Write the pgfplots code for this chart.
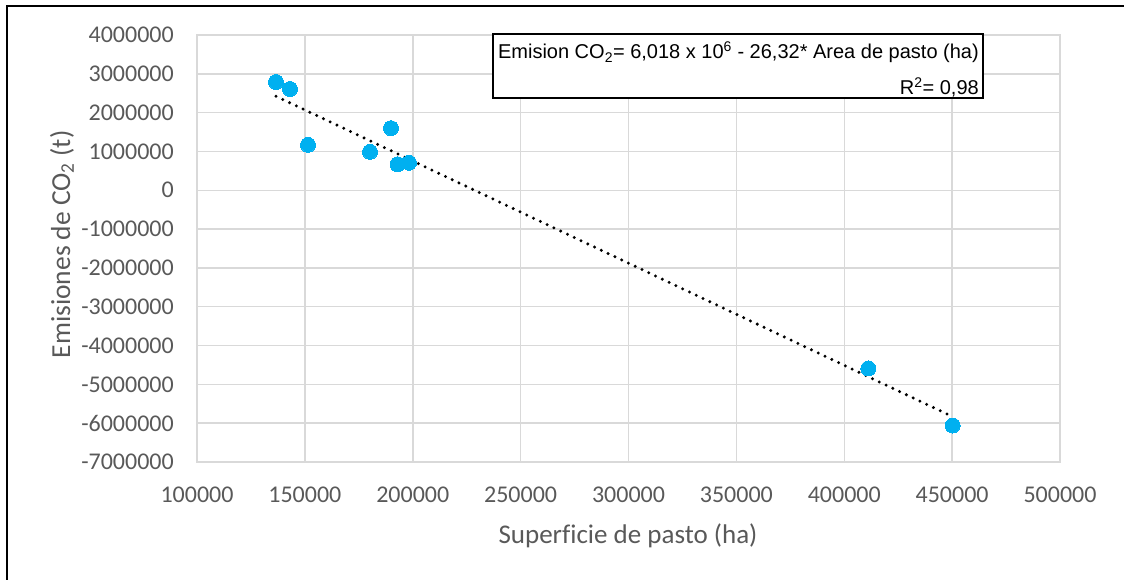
\documentclass[border=0pt]{standalone}
\usepackage{fontspec}
\setmainfont[Ligatures=NoCommon]{Carlito}
\newfontfamily\arialfont{Liberation Sans}
\usepackage{pgfplots}
\pgfplotsset{compat=1.18}
\definecolor{ptblue}{HTML}{00B0F0}
\definecolor{gridgray}{HTML}{D9D9D9}
\definecolor{txtgray}{HTML}{595959}

\begin{document}
\begin{tikzpicture}
\useasboundingbox (0pt,0pt) rectangle (1124pt,579pt);
\draw[line width=1.8pt] (7pt,-2pt) -- (7pt,573pt) -- (1126pt,573pt);
\begin{axis}[at={(197pt,117pt)}, anchor=south west,
width=863pt, height=427pt, scale only axis,
xmin=100000, xmax=500000, ymin=-7000000, ymax=4000000,
xtick distance=50000, ytick distance=1000000,
scaled ticks=false,
/pgf/number format/fixed,
/pgf/number format/set thousands separator={},
/pgf/number format/assume math mode=true,
grid=major, major grid style={gridgray, line width=1.5pt},
axis line style={gridgray, line width=1.5pt},
tick style={draw=none},
tick label style={font=\fontsize{24}{28}\selectfont, text=txtgray, inner sep=0pt},
yticklabel style={anchor=east, xshift=-23pt},
xticklabel style={anchor=north, yshift=-25pt},
clip=false]
% datos observados
\addplot[only marks, mark=*, mark size=7.5pt, mark options={fill=ptblue, draw=ptblue, line width=0pt}] coordinates {
(136600,2790000) (143100,2610000) (151450,1170000) (180190,990000)
(189900,1600000) (193000,670000) (198260,710000)
(411150,-4590000) (450270,-6060000)
};
% linea de tendencia
\addplot[black, line width=3.3pt, dash pattern=on 0pt off 7.5pt, line cap=round] coordinates {
(136600,2422700) (450270,-5833100)
};
\end{axis}
\node[anchor=base, font=\fontsize{27}{32}\selectfont, text=txtgray] at (628pt,36pt) {Superficie de pasto (ha)};
\node[rotate=90, anchor=base, font=\fontsize{27.5}{32}\selectfont, text=txtgray] at (70pt,334.5pt) {Emisiones de CO\textsubscript{2} (t)};
\draw[line width=1.8pt, fill=white] (493pt,545pt) rectangle (983pt,481pt);
\node[anchor=base east, inner sep=0pt, font=\arialfont\fontsize{20}{23}\selectfont] at (979pt,520pt) {Emision CO\textsubscript{2}= 6,018 x 10\textsuperscript{6} - 26,32* Area de pasto (ha)};
\node[anchor=base east, inner sep=0pt, font=\arialfont\fontsize{20}{23}\selectfont] at (979pt,484pt) {R\textsuperscript{2}= 0,98};
\end{tikzpicture}
\end{document}
